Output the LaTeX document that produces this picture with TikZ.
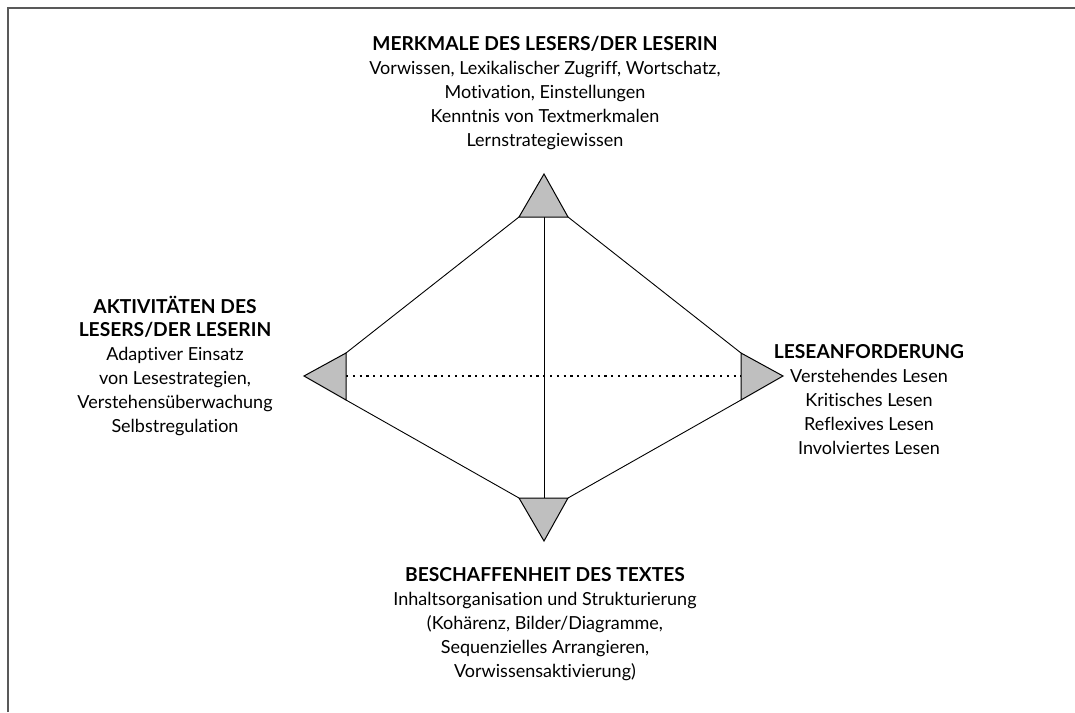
\documentclass[tikz,border=0pt]{standalone}
\usepackage{fontspec}
\setmainfont[Ligatures={NoCommon}]{Lato}
\begin{document}
\begin{tikzpicture}[x=1pt,y=-1pt,
  tri/.style={draw=black,fill=black!25,line width=1pt,line join=miter},
  edge/.style={draw=black,line width=0.9pt},
  frame/.style={draw=black!65,line width=1.6pt},
  blk/.style={align=center,inner sep=0pt,anchor=base,font=\fontsize{18}{23.8}\selectfont}]
\newcommand{\hdtext}[1]{{\fontsize{19.2}{23.8}\selectfont\bfseries #1}}
\useasboundingbox (0,0) rectangle (1075,712);
% frame
\coordinate (fa) at (8,712);
\coordinate (fb) at (8,8);
\coordinate (fc) at (1075,8);
\draw[frame] (fa) -- (fb) -- (fc);
% triangles
\coordinate (tA) at (544,174); \coordinate (tL) at (519,217); \coordinate (tR) at (568,217);
\coordinate (lA) at (304,376); \coordinate (lT) at (346,353); \coordinate (lB) at (346,400);
\coordinate (rA) at (783,376); \coordinate (rT) at (741,353); \coordinate (rB) at (741,400);
\coordinate (bA) at (544,541); \coordinate (bL) at (519,498); \coordinate (bR) at (568,498);
\coordinate (tM) at (544,217); \coordinate (bM) at (544,498);
\coordinate (lM) at (346,376); \coordinate (rM) at (741,376);
\draw[edge] (tL) -- (lT);
\draw[edge] (tR) -- (rT);
\draw[edge] (lB) -- (bL);
\draw[edge] (rB) -- (bR);
\draw[edge] (tM) -- (bM);
\draw[line width=2.2pt,dash pattern=on 2.2pt off 4.6pt] (lM) -- (rM);
\draw[tri] (tA) -- (tR) -- (tL) -- cycle;
\draw[tri] (lA) -- (lT) -- (lB) -- cycle;
\draw[tri] (rA) -- (rT) -- (rB) -- cycle;
\draw[tri] (bA) -- (bL) -- (bR) -- cycle;
% texts (anchor base = baseline of last line)
\node[blk] (top) at (545,146) {\hdtext{MERKMALE DES LESERS/DER LESERIN}\\Vorwissen, Lexikalischer Zugriff, Wortschatz,\\Motivation, Einstellungen\\Kenntnis von Textmerkmalen\\Lernstrategiewissen};
\node[blk] (left) at (175,432) {\hdtext{AKTIVITÄTEN DES}\\\hdtext{LESERS/DER LESERIN}\\Adaptiver Einsatz\\von Lesestrategien,\\Verstehensüberwachung\\Selbstregulation};
\node[blk] (right) at (869,454) {\hdtext{LESEANFORDERUNG}\\Verstehendes Lesen\\Kritisches Lesen\\Reflexives Lesen\\Involviertes Lesen};
\node[blk] (bottom) at (545,677) {\hdtext{BESCHAFFENHEIT DES TEXTES}\\Inhaltsorganisation und Strukturierung\\(Kohärenz, Bilder/Diagramme,\\Sequenzielles Arrangieren,\\Vorwissensaktivierung)};
\end{tikzpicture}
\end{document}
